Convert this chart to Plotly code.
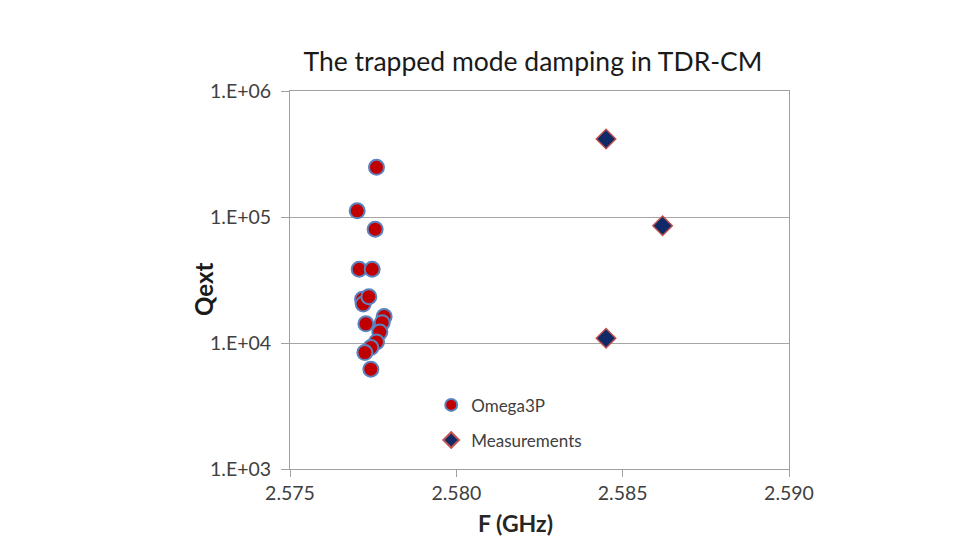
import plotly.graph_objects as go

omega_f = [2.5776, 2.57702, 2.57756, 2.57708, 2.57747, 2.57718, 2.5772, 2.57737,
           2.57728, 2.57783, 2.57777, 2.5777, 2.5776, 2.57743, 2.57725, 2.57743]
omega_q = [2.48e5, 1.12e5, 8.0e4, 3.85e4, 3.85e4, 2.22e4, 2.04e4, 2.33e4,
           1.42e4, 1.62e4, 1.45e4, 1.22e4, 1.02e4, 9.2e3, 8.4e3, 6.2e3]
meas_f = [2.5845, 2.5862, 2.5845]
meas_q = [4.16e5, 8.53e4, 1.09e4]

x_ticks = [2.575, 2.580, 2.585, 2.590]
x_labels = ["2.575", "2.580", "2.585", "2.590"]
y_ticks = [1e3, 1e4, 1e5, 1e6]
y_labels = ["1.E+03", "1.E+04", "1.E+05", "1.E+06"]

FONT = "Lato, 'Open Sans', sans-serif"

fig = go.Figure()
fig.add_trace(go.Scatter(
    x=omega_f, y=omega_q, mode="markers", name="Omega3P", legendgroup="a",
    marker=dict(symbol="circle", size=15, color="#C00000",
                line=dict(color="#5B83C0", width=2))))
fig.add_trace(go.Scatter(
    x=meas_f, y=meas_q, mode="markers", name="Measurements", legendgroup="b",
    marker=dict(symbol="diamond", size=15, color="#0F2A66",
                line=dict(color="#C0504D", width=1.5))))

fig.update_layout(
    width=962, height=538,
    margin=dict(l=290, r=173, t=91, b=69),
    paper_bgcolor="white", plot_bgcolor="white",
    font=dict(family=FONT, size=15, color="#404040"),
    title=dict(text="The trapped mode damping in TDR-CM", x=0.554, xanchor="center",
               y=0.886, yanchor="middle", font=dict(size=26.5, color="#1A1A1A")),
    showlegend=True,
    legend=dict(x=0.283, y=0.216, xanchor="left", yanchor="top",
                bgcolor="rgba(0,0,0,0)", font=dict(size=17, color="#404040"),
                traceorder="grouped", tracegroupgap=10, itemsizing="constant",
                itemwidth=30),
    annotations=[
        dict(text="<b>F (GHz)</b>", xref="paper", yref="paper", x=0.451, y=-0.143,
             xanchor="center", yanchor="middle", showarrow=False,
             font=dict(size=23, color="#262626")),
        dict(text="<b>Qext</b>", xref="paper", yref="paper", x=-0.172, y=0.474,
             xanchor="center", yanchor="middle", showarrow=False, textangle=-90,
             font=dict(size=24, color="#1A1A1A")),
    ],
)
fig.update_xaxes(
    range=[2.575, 2.590], tickvals=x_ticks, ticktext=x_labels,
    showgrid=False, zeroline=False,
    showline=True, linecolor="#A0A0A0", linewidth=1, mirror=True,
    ticks="outside", ticklen=7, tickcolor="#A0A0A0",
    tickfont=dict(size=19.5, color="#404040"),
)
fig.update_yaxes(
    type="log", range=[3, 6], tickvals=y_ticks, ticktext=y_labels,
    showgrid=True, gridcolor="#A6A6A6", gridwidth=1, zeroline=False,
    showline=True, linecolor="#A0A0A0", linewidth=1, mirror=True,
    ticks="outside", ticklen=8, tickcolor="#A0A0A0", ticklabelstandoff=6,
    tickfont=dict(size=19.5, color="#404040"),
)

fig.write_html("out.html")
